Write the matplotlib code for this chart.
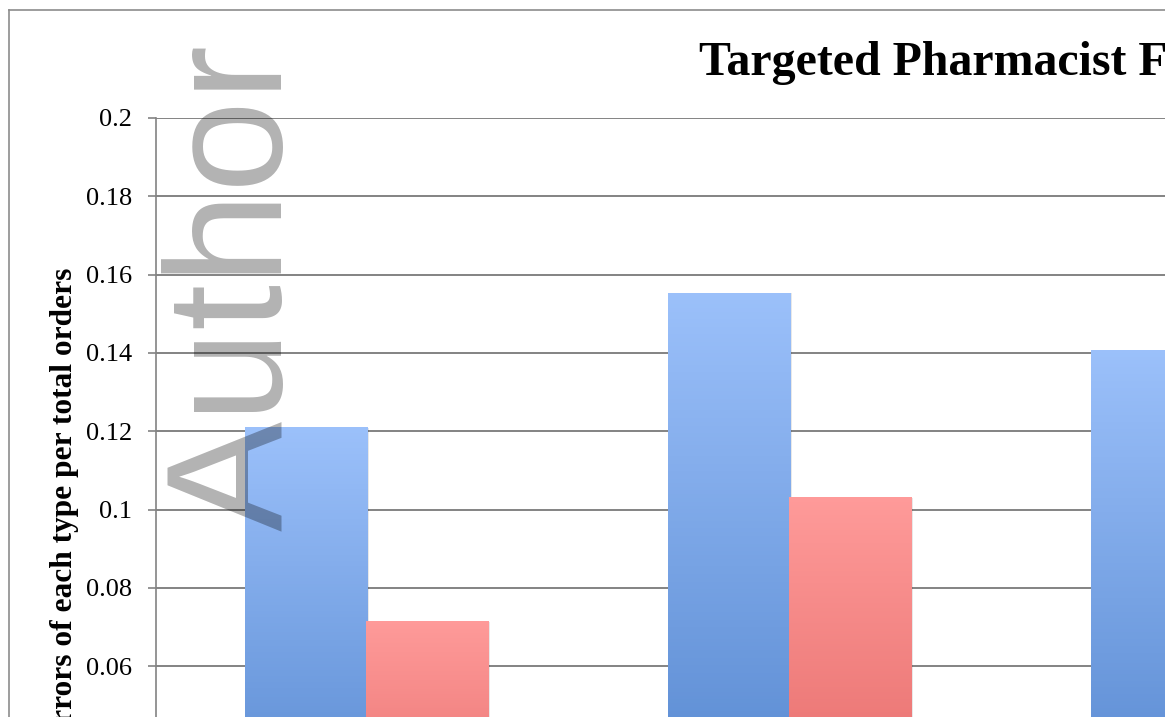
"""Grouped bar chart: targeted pharmacist feedback, errors per total orders."""

import numpy as np
import matplotlib

matplotlib.use("Agg")
from matplotlib import pyplot as plt
from matplotlib import patheffects
from matplotlib.lines import Line2D

# values (third red bar lies outside the visible area)
blue_values = [0.121, 0.1554, 0.1408]
red_values = [0.0716, 0.1031]
y_ticks = [0.0, 0.02, 0.04, 0.06, 0.08, 0.1, 0.12, 0.14, 0.16, 0.18, 0.2]

title = "Targeted Pharmacist Feedback"
y_label = "Medication errors of each type per total orders"
watermark = "Author"

W, H = 1165, 717
fig = plt.figure(figsize=(W / 100, H / 100), dpi=100, facecolor="white")

# axes reaches past the right and bottom edges, like the cropped original
px_per_unit = 423.0
left_px, top_px, zero_px = 155.5, 118.0, 901.0
x_lo, x_hi = -0.5, 2.5
ax = fig.add_axes([
    left_px / W,
    1 - zero_px / H,
    (x_hi - x_lo) * px_per_unit / W,
    (zero_px - top_px) / H,
])

grid_color = "#838383"
ax.set_yticks(y_ticks)
ax.set_yticklabels([f"{v:g}" for v in y_ticks])
ax.yaxis.grid(True, color=grid_color, linewidth=1.4)
ax.set_axisbelow(True)
ax.tick_params(axis="y", direction="out", length=6, width=1.2, color=grid_color,
               pad=11, labelsize=19, labelfontfamily="Liberation Serif")
ax.set_xticks([])
for side in ("top", "right", "bottom"):
    ax.spines[side].set_visible(False)
ax.spines["left"].set_color(grid_color)
ax.spines["left"].set_linewidth(1.2)

bar_width = 0.286
blue_top, blue_bottom = np.array([155, 192, 250]) / 255, np.array([74, 126, 200]) / 255
red_top, red_bottom = np.array([254, 154, 153]) / 255, np.array([223, 95, 93]) / 255

shadow = [
    patheffects.SimplePatchShadow(offset=(-1.0, 0), shadow_rgbFace="k", alpha=0.07),
    patheffects.SimplePatchShadow(offset=(1.2, -0.6), shadow_rgbFace="k", alpha=0.09),
]


def gradient_bars(positions, values, top_rgb, bottom_rgb, slices=160):
    # one empty full bar for the soft shadow, then thin slices for the gradient
    bars = ax.bar(positions, values, width=bar_width, facecolor="none", linewidth=0,
                  zorder=2)
    for patch in bars:
        patch.set_path_effects(shadow)
    for pos, val in zip(positions, values):
        edges = np.linspace(0, val, slices + 1)
        frac = np.linspace(1, 0, slices)[:, None]
        cols = top_rgb * (1 - frac) + bottom_rgb * frac
        # a hair wider so neighbouring bars meet without a pixel gap
        ax.bar(np.full(slices, pos), np.diff(edges), bottom=edges[:-1],
               width=bar_width + 0.0025, color=cols, linewidth=0,
               antialiased=False, zorder=3)


x = np.arange(len(blue_values))
gradient_bars(x[: len(blue_values)] - bar_width / 2, blue_values, blue_top, blue_bottom)
gradient_bars(x[: len(red_values)] + bar_width / 2, red_values, red_top, red_bottom)
ax.set_xlim(x_lo, x_hi)
ax.set_ylim(0, 0.2)

# chart-area border (top and left edges are the only visible ones)
border = "#8c8c8c"
fig.add_artist(Line2D([8.5 / W, 1.0], [1 - 9.5 / H] * 2, color=border, linewidth=1.2))
fig.add_artist(Line2D([8.5 / W] * 2, [0.0, 1 - 9.5 / H], color=border, linewidth=1.2))

fig.text(699 / W, 1 - 75 / H, title, ha="left", va="baseline", fontsize=34.5,
         fontweight="bold", family="Liberation Serif")
fig.text(72 / W, 1 - 268 / H, y_label, rotation=90, rotation_mode="anchor",
         ha="right", va="baseline", fontsize=22.6, fontweight="bold",
         family="Liberation Serif")
fig.text(282 / W, 1 - 531 / H, watermark, rotation=90, rotation_mode="anchor",
         ha="left", va="baseline", fontsize=119, family="Liberation Sans",
         color="black", alpha=0.3, zorder=10)

fig.savefig("out.png", dpi=100, facecolor="white")
